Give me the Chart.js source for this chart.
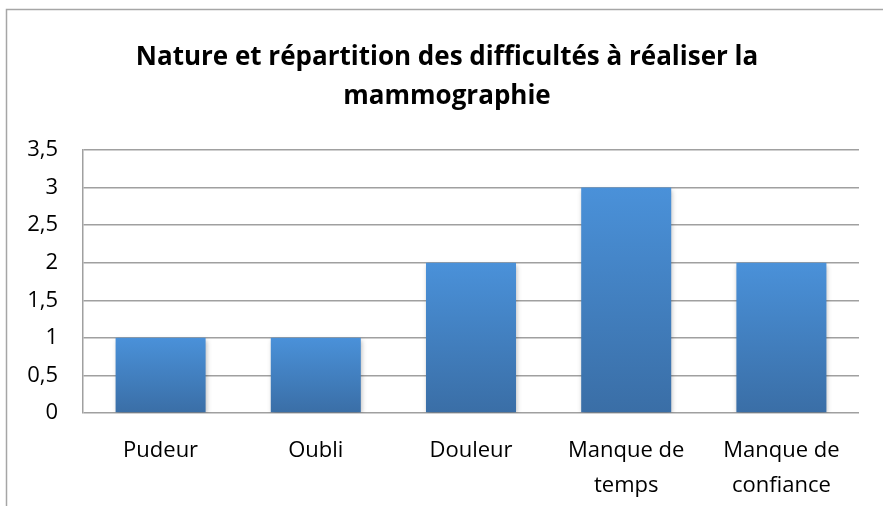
<!DOCTYPE html>
<html>
<head>
<meta charset="utf-8">
<script src="https://cdn.jsdelivr.net/npm/chart.js@4"></script>
<style>
  html, body { margin: 0; padding: 0; background: #fff; }
  #wrap { width: 883px; height: 506px; }
</style>
</head>
<body>
<div id="wrap"><canvas id="myChart" width="883" height="506"></canvas></div>
<script>
const titre = ['Nature et répartition des difficultés à réaliser la', 'mammographie'];
const categories = ['Pudeur', 'Oubli', 'Douleur', ['Manque de', 'temps'], ['Manque de', 'confiance']];
const valeurs = [1, 1, 2, 3, 2];
const yMax = 3.5;
const yPas = 0.5;

const police = "'Open Sans', 'Liberation Sans', sans-serif";

// cadre gris autour du graphique (gauche et haut) + titre sur deux lignes
const cadre = {
  id: 'cadre',
  beforeDraw(chart) {
    const ctx = chart.ctx;
    ctx.save();
    ctx.strokeStyle = '#a6a6a6';
    ctx.lineWidth = 1.5;
    ctx.beginPath();
    ctx.moveTo(6.5, 506);
    ctx.lineTo(6.5, 9.5);
    ctx.lineTo(883, 9.5);
    ctx.stroke();

    ctx.fillStyle = '#000';
    ctx.font = 'bold 26px ' + police;
    ctx.textAlign = 'center';
    ctx.textBaseline = 'middle';
    titre.forEach((ligne, i) => ctx.fillText(ligne, 447, 58 + i * 39));
    ctx.restore();
  }
};

// petite ombre sous les barres
const ombre = {
  id: 'ombre',
  beforeDatasetDraw(chart) {
    const ctx = chart.ctx;
    ctx.save();
    ctx.shadowColor = 'rgba(0,0,0,0.3)';
    ctx.shadowBlur = 5;
    ctx.shadowOffsetX = 1;
    ctx.shadowOffsetY = 2;
  },
  afterDatasetDraw(chart) {
    chart.ctx.restore();
  }
};

function degrade(context) {
  const chart = context.chart;
  const y = chart.scales.y;
  if (!chart.chartArea || !y || context.parsed === undefined) return '#4382c6';
  const haut = y.getPixelForValue(context.parsed.y);
  const bas = y.getPixelForValue(0);
  const g = chart.ctx.createLinearGradient(0, haut, 0, bas);
  g.addColorStop(0, '#4a91d9');
  g.addColorStop(1, '#3a6ea6');
  return g;
}

const myChart = new Chart(document.getElementById('myChart'), {
  type: 'bar',
  data: {
    labels: categories,
    datasets: [{
      data: valeurs,
      backgroundColor: degrade,
      borderWidth: 0,
      categoryPercentage: 1,
      barPercentage: 0.58
    }]
  },
  options: {
    responsive: false,
    animation: false,
    events: [],
    layout: { padding: { left: 0, right: 24, top: 150, bottom: 0 } },
    plugins: {
      legend: { display: false },
      tooltip: { enabled: false },
      title: { display: false }
    },
    scales: {
      x: {
        grid: { display: false, drawTicks: false },
        border: { display: false },
        ticks: {
          color: '#000',
          font: { family: police, size: 22, lineHeight: 1.6 },
          padding: 20,
          maxRotation: 0,
          autoSkip: false
        },
        afterFit(s) { s.height = 506 - 413; }
      },
      y: {
        min: 0,
        max: yMax,
        ticks: {
          stepSize: yPas,
          color: '#000',
          font: { family: police, size: 22 },
          padding: 25,
          callback: (v) => String(v).replace('.', ',')
        },
        grid: { color: '#a0a0a0', lineWidth: 1.5, drawTicks: false },
        border: { display: true, color: '#a0a0a0', width: 1.5 },
        afterFit(s) { s.width = 83; }
      }
    }
  },
  plugins: [cadre, ombre]
});
</script>
</body>
</html>
